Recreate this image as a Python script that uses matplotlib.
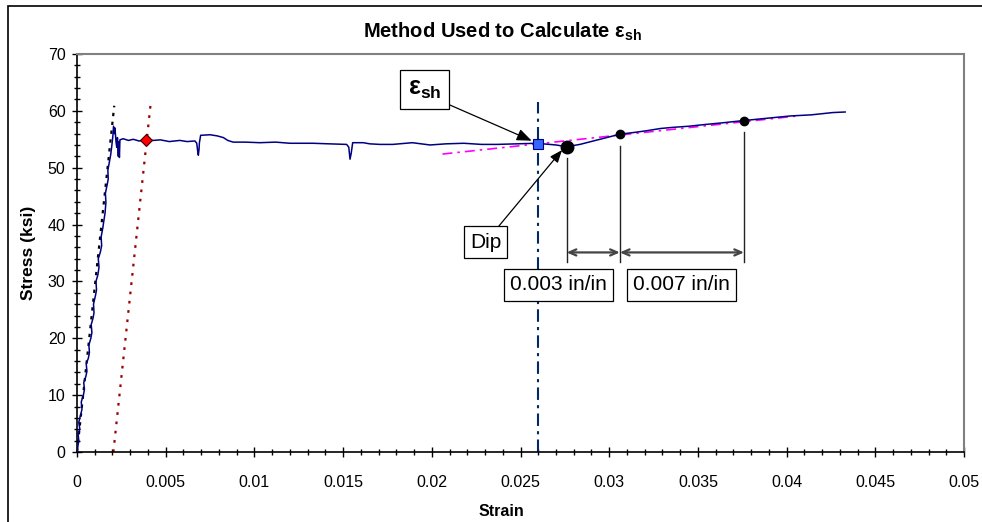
import matplotlib
matplotlib.use("Agg")
import matplotlib.pyplot as plt
from matplotlib.patches import Rectangle
from matplotlib.ticker import MultipleLocator

plt.rcParams['font.family'] = ['Liberation Sans', 'DejaVu Sans']
plt.rcParams['mathtext.fontset'] = 'custom'
plt.rcParams['mathtext.rm'] = 'Liberation Sans'
plt.rcParams['mathtext.bf'] = 'Liberation Sans:bold'
plt.rcParams['mathtext.it'] = 'Liberation Sans:italic'

# measured stress-strain curve
strain = [0.0, 0.0001, 0.00006, 0.00016, 0.0001, 0.0002, 0.00028, 0.00024, 0.00036,
          0.00042, 0.00038, 0.0005, 0.00056, 0.00052, 0.00064, 0.0007, 0.00067, 0.00078,
          0.00084, 0.0008, 0.0009, 0.00096, 0.00093, 0.00104, 0.0011, 0.00107, 0.00118,
          0.00124, 0.0012, 0.00132, 0.00139, 0.00136, 0.00146, 0.0015, 0.00158, 0.00163,
          0.0016, 0.0017, 0.00176, 0.00174, 0.00182, 0.0019, 0.00196, 0.00202, 0.00206,
          0.00212, 0.00214, 0.0022, 0.00224, 0.00228, 0.00233, 0.00236, 0.00239, 0.00242,
          0.0026, 0.0029, 0.00317, 0.0035, 0.0039, 0.0043, 0.0047, 0.0052, 0.0058,
          0.0062, 0.00665, 0.00675, 0.0068, 0.00684, 0.00688, 0.0069, 0.00697, 0.0075,
          0.0079, 0.00825, 0.0085, 0.0088, 0.0095, 0.0103, 0.0112, 0.012, 0.0133,
          0.0142, 0.0152, 0.01532, 0.01539, 0.01546, 0.01554, 0.01614, 0.0165, 0.01708,
          0.0178, 0.0189, 0.0199, 0.0208, 0.0218, 0.0228, 0.02366, 0.0248, 0.0259,
          0.027, 0.0276, 0.02835, 0.0291, 0.02986, 0.0306, 0.0314, 0.0321, 0.0329,
          0.0336, 0.0345, 0.0354, 0.0364, 0.0376, 0.0389, 0.0402, 0.0414, 0.0426, 0.0433]
stress = [0.0, 2.0, 3.2, 4.0, 5.2, 6.5, 7.5, 8.8, 10.0,
          11.0, 12.2, 13.3, 14.2, 15.5, 16.5, 17.5, 18.8, 20.0,
          21.0, 22.4, 23.5, 24.5, 26.0, 27.5, 28.5, 30.0, 31.2,
          32.5, 34.0, 35.2, 36.3, 37.8, 39.5, 40.4, 42.0, 43.9,
          45.5, 47.0, 48.0, 49.6, 50.9, 52.3, 53.8, 55.5, 57.3,
          56.0, 57.0, 54.5, 53.6, 55.3, 52.0, 54.6, 51.8, 54.9,
          55.1, 54.8, 55.0, 54.7, 54.9, 54.8, 54.9, 54.6, 54.8,
          54.6, 54.7, 54.3, 53.0, 52.2, 53.3, 54.4, 55.7, 55.8,
          55.6, 55.3, 54.8, 54.5, 54.5, 54.4, 54.5, 54.3, 54.3,
          54.2, 54.1, 53.6, 51.5, 52.6, 54.4, 54.4, 54.2, 54.1,
          54.1, 54.4, 54.0, 54.2, 54.3, 54.1, 54.1, 54.2, 54.3,
          54.0, 53.7, 54.1, 54.7, 55.3, 55.9, 56.2, 56.5, 56.9,
          57.1, 57.3, 57.6, 57.9, 58.3, 58.7, 59.1, 59.3, 59.7, 59.8]

# elastic modulus line and offset line
elastic_x = [0.0, 0.0021]
elastic_y = [0.0, 60.9]
offset_x = [0.00205, 0.00415]
offset_y = [0.0, 61.2]
yield_pt = (0.0039, 54.9)

# strain hardening fit
fit_x = [0.0206, 0.0406]
fit_y = [52.4, 59.1]
esh = 0.026
esh_stress = 54.1
esh_line_top = 61.5

# dip and the two points used for the fit
dip = (0.0276, 53.7)
pt1 = (0.0306, 55.9)
pt2 = (0.0376, 58.3)
drop_bottom = 33.5
arrow_y = 35.1

fig = plt.figure(figsize=(9.82, 5.22), dpi=100)
ax = fig.add_axes([77 / 982, 70 / 522, 887 / 982, 398 / 522])

ax.plot(elastic_x, elastic_y, color='black', ls=(0, (1.5, 2.5)), lw=1.6, zorder=2)
ax.plot(offset_x, offset_y, color='#990000', ls=(0, (1.2, 3)), lw=1.6, zorder=2)
ax.plot(fit_x, fit_y, color='#ff00ff', ls=(0, (6, 3, 1.5, 3)), lw=1.2, zorder=2)
ax.plot([esh, esh], [0, esh_line_top], color='#002a66', ls=(0, (6, 2.5, 1.5, 2.5)),
        lw=1.5, zorder=2)
ax.plot(strain, stress, color='#000080', lw=1.1, zorder=3)

ax.plot(*yield_pt, marker='D', ms=6, mfc='#ff0000', mec='#400000', mew=0.8, zorder=5)
ax.plot(esh, esh_stress, marker='s', ms=6.5, mfc='#3366ff', mec='#000080', mew=0.8,
        zorder=5)
ax.plot(*dip, marker='o', ms=9, color='black', zorder=5)
ax.plot(*pt1, marker='o', ms=6, color='black', zorder=5)
ax.plot(*pt2, marker='o', ms=6, color='black', zorder=5)

# drop lines and spacing arrows
for (px, py) in (dip, pt1, pt2):
    ax.plot([px, px], [py - 2.0, drop_bottom], color='#222222', lw=1.0, zorder=3)
for x0, x1 in ((dip[0], pt1[0]), (pt1[0], pt2[0])):
    ax.annotate('', xy=(x1, arrow_y), xytext=(x0, arrow_y),
                arrowprops=dict(arrowstyle='<->,head_length=0.5,head_width=0.22',
                                color='#444444', lw=1.6, shrinkA=0, shrinkB=0))

box = dict(boxstyle='square,pad=0.3', fc='white', ec='black', lw=0.9)
ax.text(0.02714, 29.4, '0.003 in/in', fontsize=15, ha='center', va='center', bbox=box,
        zorder=6)
ax.text(0.03408, 29.4, '0.007 in/in', fontsize=15, ha='center', va='center', bbox=box,
        zorder=6)

ax.annotate('Dip', xy=(0.02734, 53.1), xytext=(0.02303, 36.9), fontsize=15,
            ha='center', va='center', bbox=box, zorder=6,
            arrowprops=dict(arrowstyle='-|>,head_length=0.5,head_width=0.2',
                            color='black', lw=0.9, shrinkA=0, shrinkB=0,
                            relpos=(0.75, 1.0)))
ax.annotate(r'$\mathbf{\varepsilon_{sh}}$', xy=(0.02563, 54.75), xytext=(0.01959, 63.8),
            fontsize=18, ha='center', va='center', bbox=box, zorder=6,
            arrowprops=dict(arrowstyle='-|>,head_length=0.5,head_width=0.2',
                            color='black', lw=0.9, shrinkA=0, shrinkB=0,
                            relpos=(1.0, 0.0)))

ax.set_xlim(0, 0.05)
ax.set_ylim(0, 70)
ax.xaxis.set_minor_locator(MultipleLocator(0.001))
ax.yaxis.set_major_locator(MultipleLocator(10))
ax.yaxis.set_minor_locator(MultipleLocator(2))
ax.set_xticks([i * 0.005 for i in range(11)])
ax.set_xticklabels(['0', '0.005', '0.01', '0.015', '0.02', '0.025', '0.03', '0.035',
                    '0.04', '0.045', '0.05'])
ax.tick_params(which='major', direction='inout', length=6.5, width=1, labelsize=11.5)
ax.tick_params(which='minor', direction='inout', length=4.5, width=1)
ax.tick_params(axis='x', which='major', pad=13)
ax.tick_params(axis='y', which='major', pad=5)
for side in ('top', 'right'):
    ax.spines[side].set_color('#808080')
    ax.spines[side].set_linewidth(1.5)
for side in ('left', 'bottom'):
    ax.spines[side].set_linewidth(1.2)

fig.text(502 / 982, 1 - 32 / 522, r'Method Used to Calculate $\mathbf{\varepsilon_{sh}}$',
         fontsize=14.5, fontweight='bold', ha='center', va='center')
fig.text(501 / 982, 1 - 511 / 522, 'Strain', fontsize=11.5, fontweight='bold',
         ha='center', va='center')
fig.text(29 / 982, 1 - 253 / 522, 'Stress (ksi)', fontsize=12.5, fontweight='bold',
         ha='center', va='center', rotation=90)

# chart border
fig.patches.append(Rectangle((8 / 982, -0.05), 1.05, (516 / 522) + 0.05,
                             transform=fig.transFigure, fill=False, ec='black', lw=1.2))

fig.savefig('out.png', dpi=100)
